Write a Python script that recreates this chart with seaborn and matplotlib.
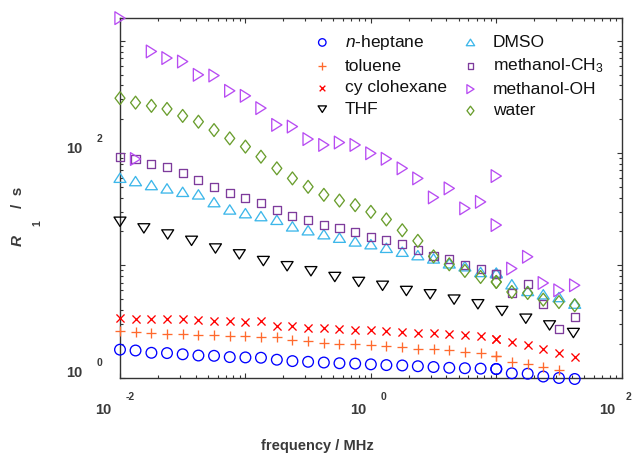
import numpy as np
import pandas as pd
import matplotlib
matplotlib.use("Agg")
import matplotlib.pyplot as plt
import seaborn as sns
from matplotlib.path import Path
from matplotlib.ticker import LogLocator, NullFormatter

sns.set_theme(style="ticks")
plt.rcParams['font.family'] = ['Liberation Sans', 'DejaVu Sans']
plt.rcParams['mathtext.fontset'] = 'custom'
plt.rcParams['mathtext.rm'] = 'Liberation Sans'
plt.rcParams['mathtext.it'] = 'Liberation Sans:italic'
plt.rcParams['mathtext.bf'] = 'Liberation Sans:bold'

# ---------------- data (frequency / MHz, R1 / s^-1) ----------------
freq_lo = [0.01, 0.0133, 0.0178, 0.0237, 0.0316, 0.0422, 0.0562, 0.075, 0.1, 0.133,
           0.178, 0.237, 0.316, 0.422, 0.562, 0.75, 1.0, 1.33, 1.78, 2.37, 3.16,
           4.22, 5.62, 7.5, 10.0]
freq_hi = [10.0, 13.3, 17.8, 23.7, 31.6, 42.2]
freq_thf = [0.01, 0.0155, 0.024, 0.0372, 0.0577, 0.0894, 0.139, 0.215, 0.333, 0.516,
            0.8, 1.24, 1.92, 2.97, 4.61, 7.14, 11.1, 17.2, 26.6, 41.2]

heptane_lo = [1.77, 1.74, 1.66, 1.65, 1.61, 1.57, 1.56, 1.52, 1.51, 1.50, 1.44, 1.40, 1.38,
              1.36, 1.34, 1.33, 1.31, 1.29, 1.28, 1.26, 1.24, 1.22, 1.21, 1.20, 1.19]
heptane_hi = [1.19, 1.09, 1.08, 1.02, 0.99, 0.97]

toluene_lo = [2.59, 2.52, 2.49, 2.45, 2.44, 2.40, 2.37, 2.35, 2.32, 2.30, 2.28, 2.14, 2.10,
              2.05, 2.00, 1.97, 1.93, 1.90, 1.87, 1.80, 1.78, 1.74, 1.68, 1.65, 1.57]
toluene_hi = [1.57, 1.37, 1.33, 1.25, 1.17]

cyclo_lo = [3.41, 3.34, 3.34, 3.30, 3.30, 3.23, 3.16, 3.16, 3.12, 3.20, 2.85, 2.85, 2.78,
            2.74, 2.70, 2.67, 2.66, 2.60, 2.54, 2.49, 2.47, 2.42, 2.37, 2.32, 2.21]
cyclo_hi = [2.21, 2.07, 1.93, 1.80, 1.66, 1.52]

thf_vals = [24.4, 21.3, 18.8, 16.5, 14.1, 12.5, 10.9, 9.8, 8.84, 7.86, 7.10, 6.56, 5.90,
            5.51, 4.94, 4.49, 3.91, 3.34, 2.91, 2.49]

dmso_lo = [60.2, 56.2, 51.8, 48.4, 45.1, 42.8, 36.5, 31.4, 29.1, 27.4, 25.4, 22.2, 20.5,
           18.9, 17.6, 16.3, 15.4, 14.3, 13.2, 12.3, 11.5, 10.4, 9.8, 8.71, 8.61]
dmso_hi = [8.5, 6.77, 5.90, 5.51, 5.21, 4.55]

mch3_lo = [92.7, 88.4, 79.3, 75.4, 66.7, 57.4, 49.4, 44.2, 39.4, 36.0, 31.0, 27.7, 25.2,
           23.0, 21.3, 19.8, 18.0, 16.9, 15.6, 13.8, 12.0, 11.3, 10.0, 9.34, 8.43]
mch3_hi = [8.43, 5.66, 6.77, 4.49, 2.72, 3.45]

moh_lo = [1590, 88.4, 803, 701, 653, 497, 490, 358, 323, 251, 178, 172, 133, 118, 124,
          118, 99.4, 88.8, 73.0, 59.4, 40.2, 48.4, 32.1, 36.7, 62.3]
moh_hi = [22.8, 9.34, 11.9, 6.95, 5.98, 6.63]

water_lo = [308, 281, 263, 247, 214, 190, 160, 135, 114, 92.7, 73.0, 59.4, 50.0, 42.4,
            37.7, 34.3, 29.9, 25.6, 20.5, 16.5, 12.0, 10.2, 8.90, 7.86, 7.10]
water_hi = [7.10, 5.78, 5.66, 4.94, 4.70, 4.40]

labels = ["$\\it{n}$-heptane", "toluene", "cy clohexane", "THF",
          "DMSO", "methanol-CH$_3$", "methanol-OH", "water"]
colors = ["#0000FF", "#FF6A2E", "#FF0000", "#000000",
          "#3DB7EA", "#7E3C9C", "#B84CF2", "#6A9E2E"]

xtick_exps = [-2, 0, 2]
ytick_exps = [0, 2]

# ---------------- marker shapes ----------------
def closed(verts):
    return Path(verts + [verts[0]], closed=True)

tri_up = closed([(0, 0.78), (1, -0.78), (-1, -0.78)])
tri_down = closed([(0, -0.78), (1, 0.78), (-1, 0.78)])
tri_right = closed([(0.8, 0), (-0.8, 1), (-0.8, -1)])
diamond = closed([(0, 1), (0.77, 0), (0, -1), (-0.77, 0)])

series = [
    (labels[0], freq_lo + freq_hi, heptane_lo + heptane_hi, "o", 59, True),
    (labels[1], freq_lo + freq_hi[:5], toluene_lo + toluene_hi, "+", 62, False),
    (labels[2], freq_lo + freq_hi, cyclo_lo + cyclo_hi, "x", 34, False),
    (labels[3], freq_thf, thf_vals, tri_down, 74, True),
    (labels[4], freq_lo + freq_hi, dmso_lo + dmso_hi, tri_up, 74, True),
    (labels[5], freq_lo + freq_hi, mch3_lo + mch3_hi, "s", 34, True),
    (labels[6], freq_lo + freq_hi, moh_lo + moh_hi, tri_right, 84, True),
    (labels[7], freq_lo + freq_hi, water_lo + water_hi, diamond, 86, True),
]

W, H = 633, 453
fig = plt.figure(figsize=(W / 100, H / 100), dpi=100)
x0, x1, y0, y1 = 120, 621.7, 377.5, 18.3
ax = fig.add_axes([x0 / W, 1 - y0 / H, (x1 - x0) / W, (y0 - y1) / H])
ax.set_xscale("log")
ax.set_yscale("log")
ax.set_xlim(0.01, 100)
ax.set_ylim(1, 1585)

for (name, fx, vals, mk, s, filled), col in zip(series, colors):
    df = pd.DataFrame({"f": fx, "R": vals})
    kw = dict(s=s, linewidth=0.95, clip_on=False, label=name, zorder=3, color=col)
    if filled:
        kw.update(facecolor="none", edgecolor=col)
    sns.scatterplot(data=df, x="f", y="R", marker=mk, ax=ax, **kw)

ax.set_xlabel("")
ax.set_ylabel("")

spine_col = "#333333"
for sp in ax.spines.values():
    sp.set_visible(True)
    sp.set_linewidth(1.0)
    sp.set_color(spine_col)

ax.xaxis.set_major_locator(LogLocator(base=10, numticks=10))
ax.xaxis.set_minor_locator(LogLocator(base=10, subs=np.arange(2, 10), numticks=20))
ax.yaxis.set_major_locator(LogLocator(base=10, numticks=10))
ax.yaxis.set_minor_locator(LogLocator(base=10, subs=np.arange(2, 10), numticks=20))
ax.xaxis.set_major_formatter(NullFormatter())
ax.xaxis.set_minor_formatter(NullFormatter())
ax.yaxis.set_major_formatter(NullFormatter())
ax.yaxis.set_minor_formatter(NullFormatter())
ax.tick_params(which="both", direction="in", top=True, right=True,
               color=spine_col, width=0.8)
ax.tick_params(which="major", length=3.8)
ax.tick_params(which="minor", length=2.2)

lab_col = "#3a3a3a"
# x tick labels: "10" and raised exponent
x_offsets = {-2: (-17, 10), 0: (-12.5, 12.5), 2: (-14, 7)}
for e in xtick_exps:
    d10, dex = x_offsets[e]
    ax.annotate("10", xy=(10.0 ** e, 0), xycoords=("data", "axes fraction"),
                xytext=(d10, -32), textcoords="offset pixels", ha="center", va="center",
                fontsize=10.5, fontweight="bold", color=lab_col, annotation_clip=False)
    ax.annotate(str(e), xy=(10.0 ** e, 0), xycoords=("data", "axes fraction"),
                xytext=(dex, -20), textcoords="offset pixels", ha="center", va="center",
                fontsize=7.5, fontweight="bold", color=lab_col, annotation_clip=False)
for e in ytick_exps:
    ax.annotate("10", xy=(0, 10.0 ** e), xycoords=("axes fraction", "data"),
                xytext=(-45.5, 4.5), textcoords="offset pixels", ha="center", va="center",
                fontsize=10.5, fontweight="bold", color=lab_col, annotation_clip=False)
    ax.annotate(str(e), xy=(0, 10.0 ** e), xycoords=("axes fraction", "data"),
                xytext=(-20, 14), textcoords="offset pixels", ha="center", va="center",
                fontsize=7.5, fontweight="bold", color=lab_col, annotation_clip=False)

# axis titles
fig.text(317 / W, 1 - 446 / H, "frequency / MHz", ha="center", va="center",
         fontsize=10.5, fontweight="bold", color=lab_col)
fig.text(18 / W, 1 - 240 / H, "R", rotation=90, ha="center", va="center",
         fontsize=11, fontweight="bold", fontstyle="italic", color=lab_col)
fig.text(37.5 / W, 1 - 223 / H, "1", rotation=90, ha="center", va="center",
         fontsize=7.5, fontweight="bold", color=lab_col)
fig.text(18 / W, 1 - 197 / H, "/  s", rotation=90, ha="center", va="center",
         fontsize=11, fontweight="bold", color=lab_col)

leg = ax.legend(loc="upper left", bbox_to_anchor=(311 / W, 1 - 33 / H),
                bbox_transform=fig.transFigure, ncol=2, frameon=False,
                fontsize=12.5, markerscale=0.7, scatterpoints=1,
                handlelength=1.3, handletextpad=0.63, columnspacing=0.73,
                labelspacing=0.37, borderpad=0, borderaxespad=0)
for t in leg.get_texts():
    t.set_color("#111111")

fig.savefig("out.png", dpi=100)
